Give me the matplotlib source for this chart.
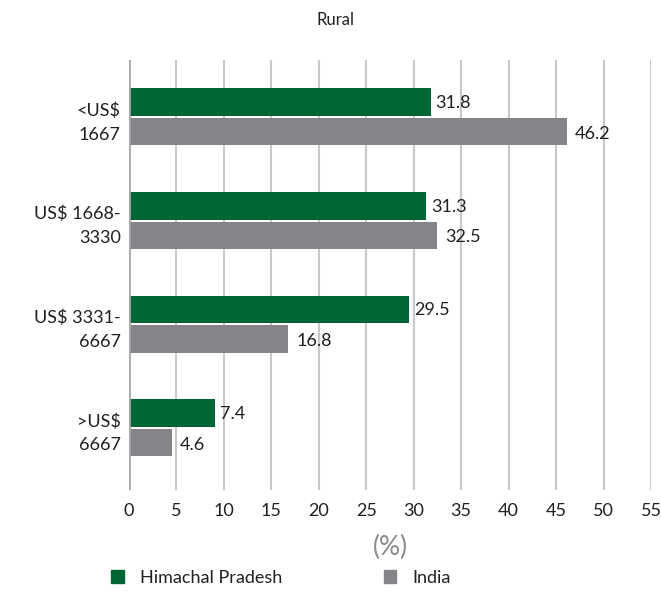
import matplotlib.pyplot as plt
from matplotlib.patches import Patch
import numpy as np

plt.rcParams['font.family'] = ['Lato', 'DejaVu Sans']

categories = ['<US$\n1667', 'US$ 1668-\n3330', 'US$ 3331-\n6667', '>US$\n6667']
# bar lengths as drawn in the picture; labels as printed
hp_bars = [31.8, 31.3, 29.5, 9.1]
india_bars = [46.2, 32.5, 16.8, 4.5]
hp_labels = ['31.8', '31.3', '29.5', '7.4']
india_labels = ['46.2', '32.5', '16.8', '4.6']
xticks = list(range(0, 60, 5))

green = '#006633'
grey = '#848589'
txt = '#231f20'

fig = plt.figure(figsize=(6.61, 5.91), dpi=100)
ax = fig.add_axes([129 / 661, 1 - 490 / 591, (651 - 129) / 661, 430 / 591])

y = np.arange(len(categories))
h = 0.265
ax.barh(y - h / 2 - 0.01, hp_bars, height=h, color=green, zorder=3)
ax.barh(y + h / 2 + 0.01, india_bars, height=h, color=grey, zorder=3)

for i in range(len(categories)):
    ax.text(hp_bars[i] + 0.5, y[i] - h / 2, hp_labels[i], va='center', ha='left',
            fontsize=13, color=txt)
    ax.text(india_bars[i] + 0.8, y[i] + h / 2 + 0.03, india_labels[i], va='center', ha='left',
            fontsize=13, color=txt)

ax.set_xlim(0, 55)
ax.set_ylim(3.6, -0.55)
ax.set_yticks(y)
ax.set_yticklabels(categories, fontsize=13, color=txt, linespacing=1.6)
ax.set_xticks(xticks)
ax.set_xticklabels([str(t) for t in xticks], fontsize=13, color=txt)
ax.tick_params(axis='y', length=0, pad=6)
ax.tick_params(axis='x', length=0, pad=9)
ax.grid(axis='x', color='#c8c8c8', linewidth=1.5, zorder=0)
ax.axvline(0, color='#a8a8a8', linewidth=2, zorder=4)
for s in ax.spines.values():
    s.set_visible(False)

ax.set_xlabel('(%)', fontsize=19, color='#8a8a8a', labelpad=12)

fig.text(336 / 661, 1 - 20 / 591, 'Rural', ha='center', va='center', fontsize=12, color=txt)

handles = [Patch(color=green, label='Himachal Pradesh'), Patch(color='#848589', label='India')]
fig.legend(handles=handles, loc='center left', bbox_to_anchor=(95 / 661, 1 - 578 / 591),
           ncol=2, frameon=False, fontsize=13, handlelength=0.7, handleheight=0.7,
           columnspacing=5.6, handletextpad=0.9, labelcolor=txt)

fig.savefig('out.png', dpi=100)
